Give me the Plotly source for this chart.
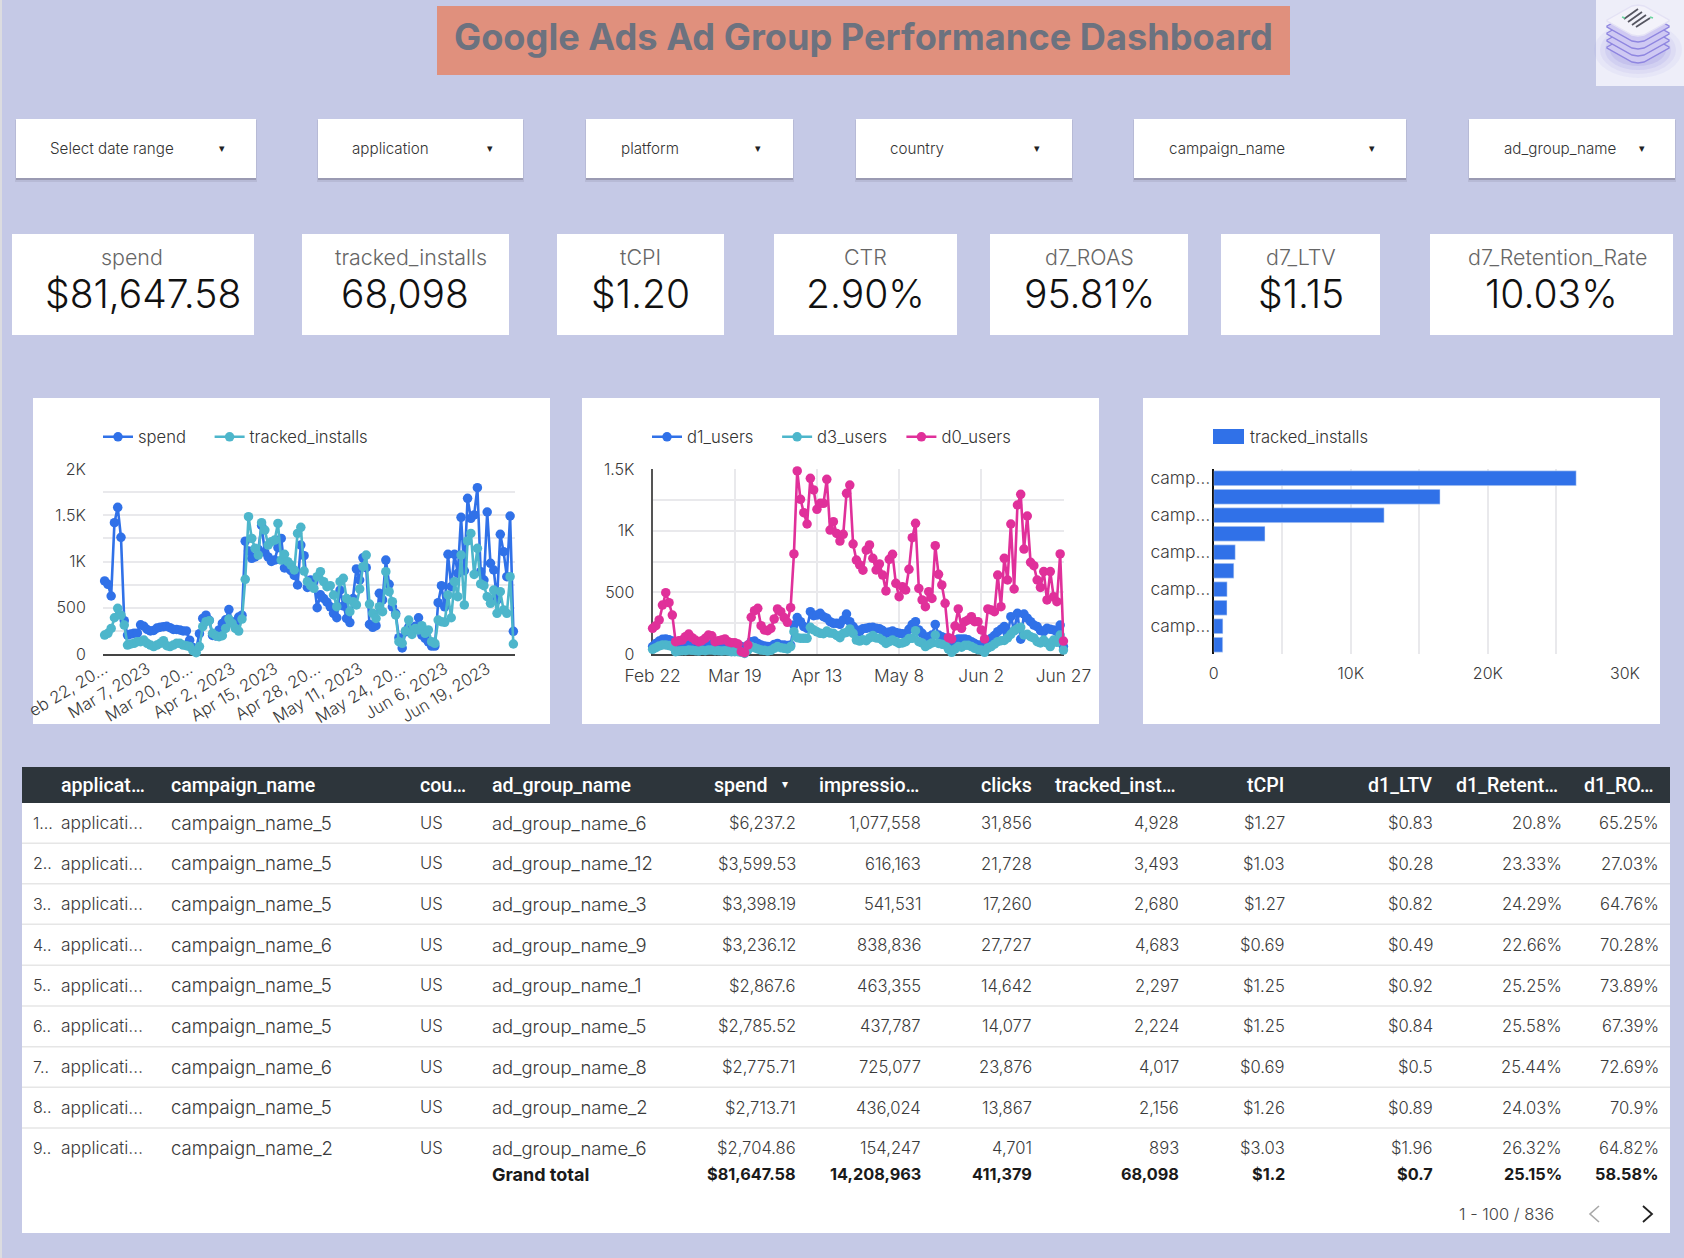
import pandas as pd
import plotly.graph_objects as go

W, H = 1684, 1258
BODY = "Inter"
HEAD = "Roboto"
BG = "#C5C9E6"
BLUE = "#3071E8"
TEAL = "#4DB6CB"
PINK = "#E0309A"

TITLE = "Google Ads Ad Group Performance Dashboard"
FILTERS = ["Select date range", "application", "platform", "country", "campaign_name", "ad_group_name"]
KPI_NAMES = ["spend", "tracked_installs", "tCPI", "CTR", "d7_ROAS", "d7_LTV", "d7_Retention_Rate"]
KPI_VALUES = ["$81,647.58", "68,098", "$1.20", "2.90%", "95.81%", "$1.15", "10.03%"]

spend = [790, 753, 627, 1420, 1586, 1261, 360, 205, 215, 225, 225, 315, 300, 265, 250, 255, 280, 290, 295, 300, 285,
         265, 265, 260, 250, 250, 150, 70, 60, 220, 385, 420, 365, 200, 195, 260, 330, 370, 480, 350, 320, 400, 420,
         1220, 1113, 1034, 1050, 1130, 1390, 1100, 1050, 1000, 1016, 1150, 1250, 930, 930, 900, 850, 746, 1178, 1063,
         720, 800, 780, 500, 640, 600, 560, 510, 440, 392, 690, 520, 385, 340, 600, 920, 800, 1040, 933, 320, 288,
         306, 656, 584, 1016, 753, 510, 440, 176, 65, 240, 290, 277, 300, 392, 205, 170, 130, 86, 86, 555, 739, 510,
         1078, 728, 1078, 872, 1478, 900, 1683, 1467, 1503, 1798, 890, 800, 1535, 980, 908, 584, 1294, 1106, 836, 1492, 245]
tracked_installs = [205, 223, 277, 392, 494, 420, 313, 97, 108, 115, 133, 133, 151, 115, 97, 80, 97, 115, 144, 90, 80,
                    97, 115, 115, 97, 90, 80, 36, 14, 80, 295, 350, 360, 223, 198, 187, 198, 277, 378, 330, 277, 248, 378,
                    807, 1485, 1250, 1142, 1070, 1420, 1340, 1178, 1214, 1232, 1412, 1016, 1078, 998, 962, 908, 1304, 1370,
                    897, 782, 739, 710, 836, 890, 782, 728, 739, 638, 512, 782, 818, 600, 458, 566, 530, 703, 944, 1070,
                    540, 440, 385, 512, 458, 890, 674, 566, 422, 133, 115, 249, 367, 212, 277, 260, 306, 223, 260, 133,
                    115, 367, 350, 342, 638, 392, 782, 620, 1070, 530, 1222, 1304, 860, 1142, 757, 739, 620, 548, 692,
                    440, 674, 476, 440, 836, 108]
d1_users = [60, 86, 105, 119, 122, 115, 105, 86, 80, 78, 76, 74, 78, 82, 80, 76, 74, 72, 78, 80, 78, 76, 74, 72, 70, 68,
            66, 60, 30, 73, 100, 105, 86, 73, 65, 60, 60, 78, 86, 73, 73, 68, 73, 235, 295, 262, 222, 208, 343, 311, 316,
            330, 303, 290, 262, 249, 249, 241, 276, 324, 262, 222, 195, 181, 205, 208, 215, 216, 208, 205, 190, 168, 178,
            186, 175, 168, 165, 162, 200, 240, 262, 195, 168, 127, 140, 154, 240, 154, 140, 127, 110, 100, 110, 122, 122,
            122, 115, 100, 85, 73, 73, 70, 95, 127, 150, 181, 200, 222, 160, 303, 190, 330, 120, 324, 290, 262, 235, 222,
            190, 181, 208, 200, 195, 181, 235, 60]
d3_users = [38, 51, 65, 73, 73, 68, 60, 19, 24, 27, 27, 32, 30, 27, 24, 30, 27, 32, 32, 27, 27, 24, 27, 24, 19, 19, 19,
            14, 5, 32, 60, 51, 41, 32, 30, 24, 30, 46, 60, 51, 46, 41, 60, 181, 132, 127, 127, 127, 216, 195, 180, 168,
            165, 186, 170, 168, 150, 132, 168, 175, 203, 168, 113, 105, 115, 108, 130, 149, 130, 127, 110, 86, 100, 113,
            100, 86, 90, 100, 125, 127, 189, 100, 90, 60, 75, 90, 154, 86, 80, 73, 40, 14, 40, 60, 55, 70, 70, 60, 46, 35,
            32, 14, 50, 60, 80, 100, 108, 110, 130, 160, 189, 205, 216, 154, 160, 140, 130, 100, 90, 113, 90, 60, 113, 95,
            154, 32]
d0_users = [208, 230, 276, 397, 497, 416, 316, 100, 108, 113, 140, 162, 132, 113, 100, 108, 127, 154, 148, 100, 108, 113,
            122, 100, 92, 92, 81, 19, 11, 73, 297, 351, 370, 230, 195, 189, 208, 284, 365, 343, 295, 257, 376, 811, 1484,
            1254, 1146, 1054, 1424, 1330, 1173, 1222, 1222, 1416, 1005, 1073, 978, 916, 970, 1303, 1370, 892, 762, 722,
            680, 843, 884, 776, 681, 730, 640, 511, 768, 808, 573, 465, 546, 519, 687, 943, 1060, 532, 438, 384, 505, 451,
            878, 646, 560, 411, 132, 122, 227, 365, 208, 262, 276, 303, 262, 262, 195, 122, 365, 357, 343, 640, 384, 776,
            600, 1054, 527, 1208, 1295, 851, 1119, 743, 716, 600, 540, 668, 438, 668, 465, 424, 811, 105]

dates = [d.strftime("%Y-%m-%d") for d in pd.date_range("2023-02-22", "2023-06-27")]
c1_tick_idx = [0, 13, 26, 39, 52, 65, 78, 91, 104, 117]
c1_tick_text = ["eb 22, 20…", "Mar 7, 2023", "Mar 20, 20…", "Apr 2, 2023", "Apr 15, 2023", "Apr 28, 20…",
                "May 11, 2023", "May 24, 20…", "Jun 6, 2023", "Jun 19, 2023"]
c2_tick_idx = [0, 25, 50, 75, 100, 125]
c2_tick_text = ["Feb 22", "Mar 19", "Apr 13", "May 8", "Jun 2", "Jun 27"]
c1_y_ticks = [0, 250, 500, 750, 1000, 1250, 1500, 1750, 2000]
c1_y_text = ["0", "", "500", "", "1K", "", "1.5K", "", "2K"]
c2_y_ticks = [0, 250, 500, 750, 1000, 1250, 1500]
c2_y_text = ["0", "", "500", "", "1K", "", "1.5K"]

bar_categories = ["campaign_1", "campaign_2", "campaign_3", "campaign_4", "campaign_5",
                  "campaign_6", "campaign_7", "campaign_8", "campaign_9", "campaign_10"]
bar_values = [26440, 16510, 12430, 3740, 1574, 1470, 980, 970, 670, 660]
bar_x_ticks = [0, 5000, 10000, 15000, 20000, 25000, 30000]
bar_x_text = ["0", "", "10K", "", "20K", "", "30K"]

tbl_headers = ["applicat…", "campaign_name", "cou…", "ad_group_name", "spend", "impressio…", "clicks",
               "tracked_inst…", "tCPI", "d1_LTV", "d1_Retent…", "d1_RO…"]
tbl_index = ["1…", "2..", "3..", "4..", "5..", "6..", "7..", "8..", "9.."]
tbl_app = ["applicati…"] * 9
tbl_campaign = ["campaign_name_5", "campaign_name_5", "campaign_name_5", "campaign_name_6", "campaign_name_5",
                "campaign_name_5", "campaign_name_6", "campaign_name_5", "campaign_name_2"]
tbl_country = ["US"] * 9
tbl_adgroup = ["ad_group_name_6", "ad_group_name_12", "ad_group_name_3", "ad_group_name_9", "ad_group_name_1",
               "ad_group_name_5", "ad_group_name_8", "ad_group_name_2", "ad_group_name_6"]
tbl_spend = ["$6,237.2", "$3,599.53", "$3,398.19", "$3,236.12", "$2,867.6", "$2,785.52", "$2,775.71", "$2,713.71", "$2,704.86"]
tbl_impr = ["1,077,558", "616,163", "541,531", "838,836", "463,355", "437,787", "725,077", "436,024", "154,247"]
tbl_clicks = ["31,856", "21,728", "17,260", "27,727", "14,642", "14,077", "23,876", "13,867", "4,701"]
tbl_tracked = ["4,928", "3,493", "2,680", "4,683", "2,297", "2,224", "4,017", "2,156", "893"]
tbl_tcpi = ["$1.27", "$1.03", "$1.27", "$0.69", "$1.25", "$1.25", "$0.69", "$1.26", "$3.03"]
tbl_ltv = ["$0.83", "$0.28", "$0.82", "$0.49", "$0.92", "$0.84", "$0.5", "$0.89", "$1.96"]
tbl_ret = ["20.8%", "23.33%", "24.29%", "22.66%", "25.25%", "25.58%", "25.44%", "24.03%", "26.32%"]
tbl_roas = ["65.25%", "27.03%", "64.76%", "70.28%", "73.89%", "67.39%", "72.69%", "70.9%", "64.82%"]
tbl_total = ["$81,647.58", "14,208,963", "411,379", "68,098", "$1.2", "$0.7", "25.15%", "58.58%"]
PAGER = "1 - 100 / 836"


def X(p):
    return p / W


def Y(p):
    return 1 - p / H


shapes, notes = [], []


def rect(x0, y0, x1, y1, fill, opacity=1.0):
    shapes.append(dict(type="rect", xref="paper", yref="paper", x0=X(x0), x1=X(x1), y0=Y(y1), y1=Y(y0),
                       fillcolor=fill, opacity=opacity, line_width=0, layer="below"))


def hline(x0, x1, y, color, w=1.5):
    shapes.append(dict(type="line", xref="paper", yref="paper", x0=X(x0), x1=X(x1), y0=Y(y), y1=Y(y),
                       line=dict(color=color, width=w), layer="below"))


def text(x, y, s, size, color="#333333", anchor="left", family=BODY, weight=300):
    notes.append(dict(xref="paper", yref="paper", x=X(x), y=Y(y), text=s, showarrow=False, xanchor=anchor,
                      yanchor="middle", borderpad=0, font=dict(family=family, size=size, color=color, weight=weight)))


def path(d_pts, fill=None, line=None, lw=1.0, opacity=1.0, close=True):
    d = "M" + " L".join(f"{X(a):.5f},{Y(b):.5f}" for a, b in d_pts) + (" Z" if close else "")
    shapes.append(dict(type="path", xref="paper", yref="paper", path=d, fillcolor=fill or "rgba(0,0,0,0)",
                       line=dict(color=line or "rgba(0,0,0,0)", width=lw if line else 0), opacity=opacity, layer="below"))


# page edge, title
rect(0, 0, 2, H, "#DCDCE0")
rect(437, 6, 1290, 75, "#E0907D")
text(863, 37, TITLE, 36.2, "#6C727F", "center", weight=700)

# logo
rect(1596, 0, 1684, 86, "#EEEEF9")
for rx, ry, op in [(44, 28, 0.08), (38, 24, 0.1), (33, 20, 0.14), (28, 16, 0.18)]:
    shapes.append(dict(type="circle", xref="paper", yref="paper", x0=X(1638 - rx), x1=X(1638 + rx),
                       y0=Y(50 + ry), y1=Y(50 - ry), fillcolor="#8F86E0", opacity=op, line_width=0, layer="below"))


def diamond(cy, fill, line):
    path([(1607, cy), (1632, cy - 14), (1638, cy - 15), (1644, cy - 14), (1669, cy), (1669, cy + 1), (1644, cy + 15),
          (1638, cy + 16), (1632, cy + 15), (1607, cy + 1)], fill=fill, line=line, lw=1.4)


for cy in [47, 40, 33, 26]:
    diamond(cy, "#CFC9F3", "#8F86E0")
diamond(20, "#F3F2FA", "#E4E2F5")
for a, b in [((1624, 19), (1638, 9)), ((1628, 22), (1642, 12)), ((1632, 25), (1646, 15)), ((1636, 27), (1650, 18))]:
    path([a, b], line="#555560", lw=1.8, close=False)
for a in [(1622, 17), (1650, 17)]:
    path([(a[0], a[1]), (a[0] + 3, a[1] + 1)], line="#6AD6A0", lw=1.5, close=False)

# filters
F_BOX = [(16, 256), (318, 523), (586, 793), (856, 1072), (1134, 1406), (1469, 1675)]
F_TXT = [49, 351, 620, 889, 1168, 1503]
F_CAR = [222, 490, 758, 1037, 1372, 1642]
for (a, b), tx, cx, name in zip(F_BOX, F_TXT, F_CAR, FILTERS):
    rect(a - 1, 120, b + 1, 182, "#B7BAD6")
    rect(a, 121, b, 180, "#9A9AB2")
    rect(a, 119, b, 178, "#FFFFFF")
    text(tx, 148.5, name, 15.2, "#333333")
    text(cx, 148, "▾", 11, "#222222", "center", family="DejaVu Sans", weight=400)

# KPI cards
K_BOX = [(12, 254), (302, 509), (557, 724), (774, 957), (990, 1188), (1221, 1380), (1430, 1673)]
K_LAB = [132, 411, 640, 865, 1089, 1301, 1557]
K_VAL = [143, 405, 640, 865, 1089, 1301, 1551]
for (a, b), lx, vx, n, v in zip(K_BOX, K_LAB, K_VAL, KPI_NAMES, KPI_VALUES):
    rect(a, 234, b, 335, "#FFFFFF")
    text(lx, 257, n, 21.4, "#666666", "center")
    text(vx, 294, v, 39, "#111111", "center")

# chart cards
for a, b in [(33, 550), (582, 1099), (1143, 1660)]:
    rect(a, 398, b, 724, "#FFFFFF")

# bar legend
rect(1213, 429, 1244, 444, BLUE)
text(1249, 437, "tracked_installs", 16.6, "#333333")

# table frame
rect(22, 767, 1670, 1233, "#FFFFFF")
rect(22, 767, 1670, 803, "#2D353B")
ROW_Y = [823.3, 863.7, 904.3, 945.3, 985.7, 1026.3, 1067.3, 1107.7, 1148.3]
SEP_Y = [843.3, 883.7, 924.3, 965.3, 1006, 1046.7, 1087.3, 1128]
for y in SEP_Y:
    hline(22, 1670, y, "#E6E6E6", 1.5)

H_LEFT = [60, 169.5, 418.5, 490.5]
H_RIGHT = [769, 920, 1033, 1177, 1285, 1433, 1559, 1654.5]
for x, s in zip(H_LEFT, tbl_headers[:4]):
    text(x, 785, s, 19.6, "#FFFFFF", family=HEAD, weight=500)
for x, s in zip(H_RIGHT, tbl_headers[4:]):
    text(x, 785, s, 19.6, "#FFFFFF", "right", family=HEAD, weight=500)
text(785, 784, "▾", 12, "#FFFFFF", "center", family="DejaVu Sans", weight=400)

LEFT_COLS = [(32, tbl_index, 16), (60, tbl_app, 17.4), (169.5, tbl_campaign, 18.6), (418.5, tbl_country, 16.6),
             (490.5, tbl_adgroup, 18.4)]
R_X = [797, 921.5, 1033, 1180, 1286, 1434, 1562.5, 1659.5]
RIGHT_COLS = [tbl_spend, tbl_impr, tbl_clicks, tbl_tracked, tbl_tcpi, tbl_ltv, tbl_ret, tbl_roas]
for x, col, sz in LEFT_COLS:
    for y, s in zip(ROW_Y, col):
        text(x, y - 0.5, s, sz, "#3A3A3A")
for x, col in zip(R_X, RIGHT_COLS):
    for y, s in zip(ROW_Y, col):
        text(x, y, s, 16.6, "#3A3A3A", "right")
text(490.5, 1174.3, "Grand total", 18, "#1A1A1A", weight=700)
for x, s in zip(R_X, tbl_total):
    text(x, 1174.3, s, 16.3, "#1A1A1A", "right", weight=700)
text(1555, 1214.3, PAGER, 16.5, "#444444", "right")
path([(1599, 1206), (1590, 1214), (1599, 1222)], line="#A8A8A8", lw=1.6, close=False)
path([(1643, 1206), (1652, 1214), (1643, 1222)], line="#222222", lw=1.8, close=False)

fig = go.Figure()
PAD = "\u00a0"


def line_trace(xa, ya, name, ys, color, legend, pad=0):
    fig.add_trace(go.Scatter(x=dates, y=ys, name=name + PAD * pad, mode="lines+markers", xaxis=xa, yaxis=ya,
                             legend=legend, line=dict(color=color, width=2.6), marker=dict(color=color, size=9.5),
                             cliponaxis=False))


line_trace("x", "y", "spend", spend, BLUE, "legend", 4)
line_trace("x", "y", "tracked_installs", tracked_installs, TEAL, "legend")
line_trace("x2", "y2", "d1_users", d1_users, BLUE, "legend2", 4)
line_trace("x2", "y2", "d3_users", d3_users, TEAL, "legend2", 2)
line_trace("x2", "y2", "d0_users", d0_users, PINK, "legend2")
fig.add_trace(go.Bar(x=bar_values, y=bar_categories, orientation="h", xaxis="x3", yaxis="y3", marker_color=BLUE,
                     name="tracked_installs", showlegend=False, width=0.8))

GRID = "#E9E9EC"
TICKF = dict(family=BODY, size=16, color="#3A3A3A", weight=300)
TICKX1 = dict(TICKF, size=16.6)
TICKX2 = dict(TICKF, size=17.4)
BLANK = "rgba(0,0,0,0)"
y_dom = [Y(654), Y(469)]

leg = dict(orientation="h", yanchor="middle", xanchor="left", y=Y(437), bgcolor=BLANK, borderwidth=0,
           font=dict(family=BODY, size=16.6, color="#333333", weight=300), itemsizing="trace", itemwidth=30,
           traceorder="normal")

fig.update_layout(
    width=W, height=H, autosize=False, margin=dict(l=0, r=0, t=0, b=0, autoexpand=False), paper_bgcolor=BG,
    plot_bgcolor=BLANK, shapes=shapes, annotations=notes, hovermode=False, bargap=0.2,
    legend=dict(leg, x=X(98)),
    legend2=dict(leg, x=X(647)),
    xaxis=dict(domain=[X(103), X(515)], anchor="y", type="category", categoryorder="array", categoryarray=dates,
               range=[-0.5, 125.5], tickmode="array", tickvals=[dates[i] for i in c1_tick_idx], ticktext=c1_tick_text,
               tickangle=-31, showgrid=False, showline=True, linecolor="#444444", linewidth=2, ticks="",
               ticklabelstandoff=-3, tickfont=TICKX1, layer="below traces"),
    yaxis=dict(domain=y_dom, anchor="x", range=[0, 2000], tickmode="array", tickvals=c1_y_ticks, ticktext=c1_y_text,
               showgrid=True, gridcolor=GRID, gridwidth=1.5, zeroline=False, showline=False, ticks="outside",
               ticklen=13, tickcolor=BLANK, tickfont=TICKF, layer="below traces"),
    xaxis2=dict(domain=[X(652.6), X(1064.1)], anchor="y2", type="category", categoryorder="array", categoryarray=dates,
                range=[0, 125.2], tickmode="array", tickvals=[dates[i] for i in c2_tick_idx], ticktext=c2_tick_text,
                tickangle=0, showgrid=True, gridcolor=GRID, gridwidth=1.5, showline=True, linecolor="#444444",
                linewidth=2, ticks="outside", ticklen=5, tickcolor=BLANK, tickfont=TICKX2, layer="below traces"),
    yaxis2=dict(domain=y_dom, anchor="x2", range=[0, 1500], tickmode="array", tickvals=c2_y_ticks, ticktext=c2_y_text,
                showgrid=True, gridcolor=GRID, gridwidth=1.5, zeroline=False, showline=True, linecolor="#555555",
                linewidth=2, ticks="outside", ticklen=13, tickcolor=BLANK, tickfont=TICKF, layer="below traces"),
    xaxis3=dict(domain=[X(1213.7), X(1625)], anchor="y3", range=[0, 30000], tickmode="array", tickvals=bar_x_ticks,
                ticktext=bar_x_text, showgrid=True, gridcolor=GRID, gridwidth=1.5, zeroline=False, showline=False,
                ticks="outside", ticklen=5, tickcolor=BLANK, tickfont=TICKF, layer="below traces"),
    yaxis3=dict(domain=y_dom, anchor="x3", type="category", categoryorder="array", categoryarray=bar_categories,
                autorange="reversed", tickmode="array", tickvals=bar_categories[::2],
                ticktext=["camp…"] * 5, showgrid=False, showline=True, linecolor="#111111", linewidth=2,
                ticklabelstandoff=-2, tickfont=TICKX2, layer="below traces"),
)

fig.write_html("out.html", post_script="document.body.style.margin='0';document.body.style.overflow='hidden';",
               config=dict(displayModeBar=False))
